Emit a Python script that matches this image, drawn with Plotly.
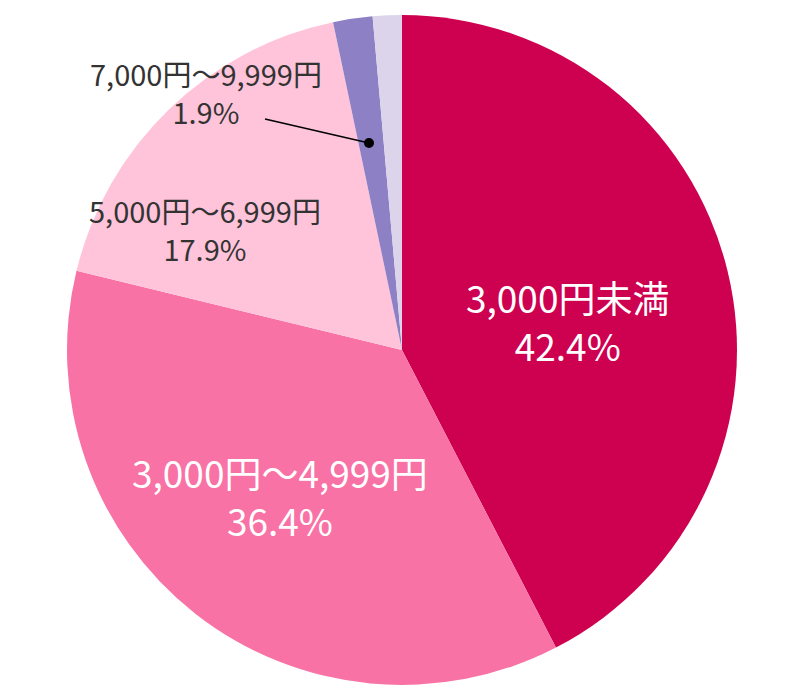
import plotly.graph_objects as go

labels = ["3,000円未満", "3,000円～4,999円", "5,000円～6,999円", "7,000円～9,999円", "10,000円以上"]
values = [42.4, 36.4, 17.9, 1.9, 1.4]
colors = ["#CE0050", "#F872A5", "#FFC4DA", "#8E80C5", "#DCD4EA"]

FONT = "Noto Sans CJK JP"

W, H = 804, 696
OFF = 8  # page body margin in the browser


def px_x(x):
    return (x - OFF) / W


def px_y(y):
    return 1 - (y - OFF) / H


fig = go.Figure()
fig.add_trace(
    go.Pie(
        labels=labels,
        values=values,
        sort=False,
        direction="clockwise",
        rotation=0,
        marker=dict(colors=colors, line=dict(width=0)),
        textinfo="none",
        hoverinfo="label+percent",
        showlegend=False,
        domain=dict(x=[px_x(67), px_x(737)], y=[px_y(685), px_y(15)]),
    )
)

# label block centers in pixels, font size, colour
label_pos = [
    ((567, 321), 37, "white"),
    ((280, 496), 37, "white"),
    ((205, 229), 29, "#333333"),
    ((206, 92), 29, "#333333"),
]

annotations = []
for i, ((px, py), size, color) in enumerate(label_pos):
    annotations.append(
        dict(
            x=px_x(px),
            y=px_y(py),
            xref="paper",
            yref="paper",
            text=f"{labels[i]}<br>{values[i]}%",
            showarrow=False,
            align="center",
            xanchor="center",
            yanchor="middle",
            font=dict(family=FONT, size=size, color=color),
        )
    )

fig.update_layout(
    width=W,
    height=H,
    margin=dict(l=0, r=0, t=0, b=0),
    paper_bgcolor="white",
    plot_bgcolor="white",
    annotations=annotations,
    shapes=[
        dict(
            type="line",
            xref="paper",
            yref="paper",
            x0=px_x(265),
            y0=px_y(119),
            x1=px_x(369),
            y1=px_y(143),
            line=dict(color="black", width=1.5),
        ),
        dict(
            type="circle",
            xref="paper",
            yref="paper",
            x0=px_x(364),
            y0=px_y(138),
            x1=px_x(374),
            y1=px_y(148),
            fillcolor="black",
            line=dict(width=0),
        ),
    ],
)

fig.write_html("out.html")
